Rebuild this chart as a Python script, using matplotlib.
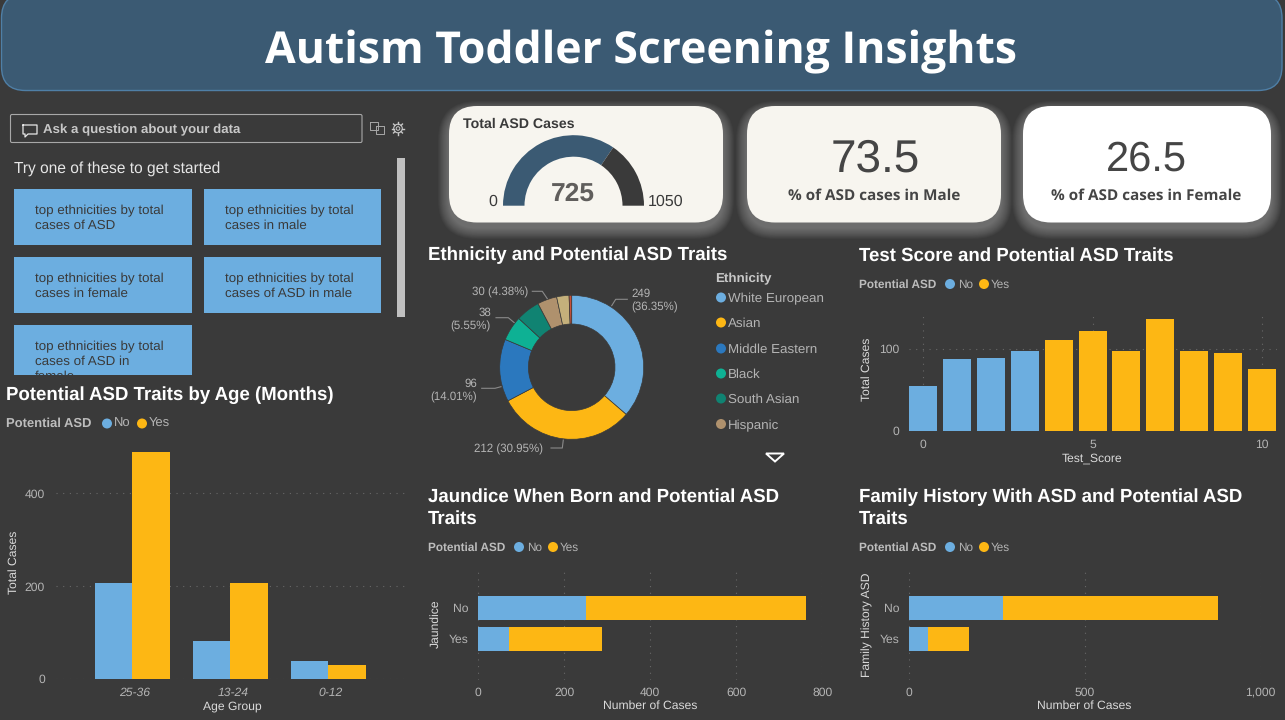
import numpy as np
import matplotlib
matplotlib.use("Agg")
import matplotlib.pyplot as plt
from matplotlib.patches import FancyBboxPatch, Circle, Rectangle, Polygon

# data
age_groups = ["25-36", "13-24", "0-12"]
age_no = [207, 82, 39]
age_yes = [489, 207, 30]

test_scores = [0, 1, 2, 3, 4, 5, 6, 7, 8, 9, 10]
test_totals = [55, 87, 89, 97, 110, 121, 97, 136, 97, 95, 75]
test_asd = ["No", "No", "No", "No", "Yes", "Yes", "Yes", "Yes", "Yes", "Yes", "Yes"]

ethnicities = ["White European", "Asian", "Middle Eastern", "Black", "South Asian",
               "Hispanic", "Others", "Latino"]
ethnicity_cases = [249, 212, 96, 38, 37, 30, 19, 4]
ethnicity_colors = ["#6CAEE0", "#FDB714", "#2B78BE", "#0EB194", "#108372",
                    "#AF916D", "#C4B07B", "#C8503A"]

answers = ["No", "Yes"]
jaundice_no = [250, 71]
jaundice_yes = [512, 217]
family_no = [267, 54]
family_yes = [612, 117]

total_cases = 725
gauge_max = 1050
pct_male = 73.5
pct_female = 26.5

prompts = ["top ethnicities by total\ncases of ASD", "top ethnicities by total\ncases in male",
           "top ethnicities by total\ncases in female", "top ethnicities by total\ncases of ASD in male",
           "top ethnicities by total\ncases of ASD in\nfemale"]

BG = "#3A3A3A"
BLUE = "#6CAEE0"
YELLOW = "#FDB714"
HEADER = "#3B5A73"
TICK = "#B4B4B4"
LABEL = "#DADADA"
GRID = "#686868"

plt.rcParams["font.family"] = ["Liberation Sans", "DejaVu Sans"]
plt.rcParams["text.hinting"] = "no_hinting"

W, H = 1285, 720
fig = plt.figure(figsize=(W / 100, H / 100), dpi=100, facecolor=BG)

# whole-figure axes in pixel coordinates for the panels and texts
px = fig.add_axes([0, 0, 1, 1], zorder=0)
px.set_xlim(0, W)
px.set_ylim(H, 0)
px.axis("off")


def axes_px(left, top, right, bottom):
    ax = fig.add_axes([left / W, 1 - bottom / H, (right - left) / W, (bottom - top) / H], zorder=2)
    ax.set_facecolor("none")
    return ax


def round_box(x0, y0, x1, y1, r, **kw):
    box = FancyBboxPatch((x0, y0), x1 - x0, y1 - y0, boxstyle=f"round,pad=0,rounding_size={r}", **kw)
    px.add_patch(box)
    return box


def style_axes(ax):
    for s in ax.spines.values():
        s.set_visible(False)
    ax.tick_params(length=0, labelsize=8.7, labelcolor=TICK)
    ax.set_axisbelow(True)


def dotted(ax, axis):
    ax.grid(True, axis=axis, color=GRID, linewidth=0.8, linestyle=(0, (1, 5)))


def asd_legend(x, y, size=8.5, c1=91, t1=99, c2=125, t2=132):
    px.text(x, y + 0.5, "Potential ASD", color="#BDBDBD", fontsize=size, fontweight="bold", va="center")
    px.add_patch(Circle((x + c1, y), 5, facecolor=BLUE, edgecolor="none"))
    px.text(x + t1, y + 0.5, "No", color=TICK, fontsize=size, va="center")
    px.add_patch(Circle((x + c2, y), 5, facecolor=YELLOW, edgecolor="none"))
    px.text(x + t2, y + 0.5, "Yes", color=TICK, fontsize=size, va="center")


def chart_title(x, y, s):
    px.text(x, y, s, color="white", fontsize=13.4, fontweight="bold", va="center", linespacing=1.32)


# header
round_box(1.5, -6, 1282, 90.5, 24, facecolor=HEADER, edgecolor="#4F7FA6", linewidth=1)
px.text(641, 52, "Autism Toddler Screening Insights", color="white", fontsize=32,
        fontweight="bold", family="Open Sans", ha="center", va="center")

# Q&A panel
round_box(10.5, 114.5, 362, 142.5, 1.5, facecolor="none", edgecolor="#A8A8A8", linewidth=0.8)
px.plot([23, 37, 37, 28, 25, 25, 23, 23], [125, 125, 134, 134, 137, 134, 134, 125], color="#E8E8E8", lw=0.9)
px.text(43, 130, "Ask a question about your data", color="#C8C8C8", fontsize=9.5, fontweight="bold", va="center")
px.plot([376, 384, 384, 376, 376], [126, 126, 134, 134, 126], color="#A8A8A8", lw=0.7)
px.plot([370, 378, 378, 370, 370], [122, 122, 130, 130, 122], color="#A8A8A8", lw=0.7)
px.add_patch(Circle((398, 128.5), 4.3, facecolor="none", edgecolor="#C8C8C8", lw=0.8))
px.add_patch(Circle((398, 128.5), 1.8, facecolor="none", edgecolor="#C8C8C8", lw=0.7))
for a in np.arange(0, 360, 45):
    px.plot([398 + 4.3 * np.cos(np.radians(a)), 398 + 6.3 * np.cos(np.radians(a))],
            [128.5 + 4.3 * np.sin(np.radians(a)), 128.5 + 6.3 * np.sin(np.radians(a))], color="#C8C8C8", lw=1)
px.text(14, 168.5, "Try one of these to get started", color="#E6E6E6", fontsize=11.2, va="center")
px.add_patch(Rectangle((397, 158), 8, 159, facecolor="#C0C0C0", edgecolor="none"))

card_x = [(14, 192), (204, 381), (14, 192), (204, 381), (14, 192)]
card_y = [(189, 245), (189, 245), (257, 313), (257, 313), (325, 375)]
for (x0, x1), (y0, y1), prompt in zip(card_x, card_y, prompts):
    px.add_patch(Rectangle((x0, y0), x1 - x0, y1 - y0, facecolor=BLUE, edgecolor="none"))
    t = px.text(x0 + 21, y0 + 15.5, prompt, color="#3A3A3A", fontsize=9.6, va="top", linespacing=1.3)
    t.set_clip_path(Rectangle((x0, y0), x1 - x0, y1 - y0, transform=px.transData))

# KPI cards with a soft glow that falls downward
kpi_boxes = [(449, 723, "#F7F5EF"), (747, 1001, "#F7F5EF"), (1023, 1271, "#FFFFFF")]
for x0, x1, col in kpi_boxes:
    for g in np.arange(11, 0, -0.75):
        round_box(x0 - g, 112 - g, x1 + g, 228 + g, 28 + g, facecolor="#B8B8B8", edgecolor="none", alpha=0.04)
    round_box(x0, 106, x1, 222.5, 28, facecolor=col, edgecolor="none")

px.text(463, 124.5, "Total ASD Cases", color="#3A3A3A", fontsize=10.2, fontweight="bold", va="center")
gauge = axes_px(503, 135.2, 644, 276.2)
gauge.pie([total_cases, gauge_max - total_cases, gauge_max], colors=[HEADER, BG, "none"], startangle=180,
          counterclock=False, radius=1, wedgeprops=dict(width=21.5 / 70.5, linewidth=0))
gauge.set_xlim(-1, 1)
gauge.set_ylim(-1, 1)
px.text(573, 194, str(total_cases), color="#605E5C", fontsize=19, fontweight="bold", ha="center", va="center")
px.text(493, 201.5, "0", color="#3A3A3A", fontsize=11.5, ha="center", va="center")
px.text(666, 201.5, str(gauge_max), color="#3A3A3A", fontsize=11.5, ha="center", va="center")
px.text(875, 160, str(pct_male), color="#454545", fontsize=33, ha="center", va="center")
px.text(874, 195.5, "% of ASD cases in Male", color="#454545", fontsize=11, fontweight="bold",
        family="Open Sans", ha="center", va="center")
px.text(1146, 160, str(pct_female), color="#454545", fontsize=30, ha="center", va="center")
px.text(1146.5, 195.5, "% of ASD cases in Female", color="#454545", fontsize=11, fontweight="bold",
        family="Open Sans", ha="center", va="center")

# donut
chart_title(428, 255.5, "Ethnicity and Potential ASD Traits")
donut = axes_px(497.7, 293.3, 645.7, 441.3)
donut.pie(ethnicity_cases, colors=ethnicity_colors, startangle=90, counterclock=False, radius=1,
          wedgeprops=dict(width=28.7 / 72, edgecolor=BG, linewidth=0.5))
donut.set_xlim(-74 / 72, 74 / 72)
donut.set_ylim(-74 / 72, 74 / 72)

total_eth = sum(ethnicity_cases)


def pct(i):
    return f"({ethnicity_cases[i] / total_eth * 100:.2f}%)"


px.text(631, 293.5, str(ethnicity_cases[0]), color=TICK, fontsize=8.3, va="center")
px.text(631, 307.5, pct(0), color=TICK, fontsize=8.3, va="center")
px.text(474, 449.5, f"{ethnicity_cases[1]} {pct(1)}", color=TICK, fontsize=8.3, va="center")
px.text(477, 383.5, str(ethnicity_cases[2]), color=TICK, fontsize=8.3, va="center", ha="right")
px.text(477, 397.5, pct(2), color=TICK, fontsize=8.3, va="center", ha="right")
px.text(491, 312.5, str(ethnicity_cases[3]), color=TICK, fontsize=8.3, va="center", ha="right")
px.text(491, 326.5, pct(3), color=TICK, fontsize=8.3, va="center", ha="right")
px.text(528, 292.5, f"{ethnicity_cases[5]} {pct(5)}", color=TICK, fontsize=8.3, va="center", ha="right")
leaders = [([611.7, 615.7, 627.3], [305.7, 299.3, 299.3]),
           ([551, 562.3, 563.3], [448, 448, 440]),
           ([481.7, 495, 501], [388.3, 388.3, 386.7]),
           ([496, 508.3, 514.3], [317.7, 317.7, 322.7]),
           ([532.3, 542.3, 547.7], [291.3, 291.3, 299.3])]
for lx, ly in leaders:
    px.plot(lx, ly, color="#8A8A8A", lw=0.8)

px.text(715, 279, "Ethnicity", color="#C8C8C8", fontsize=9.6, fontweight="bold", va="center")
legend_y = [297.5, 322.5, 348.5, 373.5, 398.5, 424]
for name, col, y in zip(ethnicities, ethnicity_colors, legend_y):
    px.add_patch(Circle((721, y), 5, facecolor=col, edgecolor="none"))
    px.text(728, y + 1.5, name, color=TICK, fontsize=9.6, va="center")
px.add_patch(Polygon([(766, 453.5), (784, 453.5), (775, 461.5)], closed=True, facecolor="none",
                     edgecolor="white", linewidth=1.4))

# age chart
chart_title(6, 395, "Potential ASD Traits by Age (Months)")
asd_legend(6, 423.5, size=9.4, c1=101, t1=108, c2=136, t2=143)
ax = axes_px(56, 440, 405, 679)
style_axes(ax)
xpos = np.arange(len(age_groups))
bw = 37.5 / 98
ax.bar(xpos - bw / 2, age_no, bw, color=BLUE)
ax.bar(xpos + bw / 2, age_yes, bw, color=YELLOW)
ax.set_xlim(-76 / 98, 273 / 98)
ax.set_ylim(0, 239 / 0.4645)
ax.set_yticks([0, 200, 400])
ax.set_xticks(xpos + 3 / 98, age_groups, fontstyle="italic")
ax.tick_params(axis="y", pad=8)
ax.tick_params(axis="x", pad=6)
dotted(ax, "y")
ax.set_xlabel("Age Group", color=LABEL, fontsize=8.7, va="center")
ax.xaxis.set_label_coords(232, 706, transform=px.transData)
ax.set_ylabel("Total Cases", color=LABEL, fontsize=8.7, va="center")
ax.yaxis.set_label_coords(14, 562, transform=px.transData)

# test score chart
chart_title(859, 255.5, "Test Score and Potential ASD Traits")
asd_legend(859, 284)
ax = axes_px(909, 311, 1277, 431)
style_axes(ax)
ax.bar(test_scores, test_totals, 28 / 33.9, color=[BLUE if a == "No" else YELLOW for a in test_asd])
ax.set_xlim(-14 / 33.9, 354 / 33.9)
ax.set_ylim(0, 120 / 0.823)
ax.set_xticks([0, 5, 10])
ax.set_yticks([0, 100])
ax.tick_params(axis="y", pad=7)
ax.tick_params(axis="x", pad=6)
dotted(ax, "both")
ax.set_xlabel("Test_Score", color=LABEL, fontsize=8.7, va="center")
ax.xaxis.set_label_coords(1092, 458.5, transform=px.transData)
ax.set_ylabel("Total Cases", color=LABEL, fontsize=8.7, va="center")
ax.yaxis.set_label_coords(867, 369, transform=px.transData)


def stacked_panel(left, right, xmax, xticks, ylab, ylab_x, ylab_y, no, yes, fmt=None):
    ax = axes_px(left, 571, right, 680)
    style_axes(ax)
    ypos = np.arange(len(answers))
    ax.barh(ypos, no, 24 / 31, color=BLUE)
    ax.barh(ypos, yes, 24 / 31, left=no, color=YELLOW)
    ax.set_xlim(0, xmax)
    ax.set_ylim(72 / 31, -37 / 31)
    ax.set_yticks(ypos, answers)
    ax.set_xticks(xticks, fmt or [str(v) for v in xticks])
    ax.tick_params(axis="y", pad=7)
    ax.tick_params(axis="x", pad=5)
    dotted(ax, "x")
    ax.set_xlabel("Number of Cases", color=LABEL, fontsize=8.7, va="center")
    ax.xaxis.set_label_coords((left + right) / 2 - (0 if xmax == 800 else 1), 706, transform=px.transData)
    ax.set_ylabel(ylab, color=LABEL, fontsize=8.7, va="center")
    ax.yaxis.set_label_coords(ylab_x, ylab_y, transform=px.transData)
    return ax


chart_title(428, 508, "Jaundice When Born and Potential ASD\nTraits")
asd_legend(428, 547)
stacked_panel(478.3, 822.3, 800, [0, 200, 400, 600, 800], "Jaundice", 436, 624, jaundice_no, jaundice_yes)

chart_title(859, 508, "Family History With ASD and Potential ASD\nTraits")
asd_legend(859, 547)
stacked_panel(909, 1260.7, 1000, [0, 500, 1000], "Family History ASD", 867, 625, family_no, family_yes,
              fmt=["0", "500", "1,000"])

fig.savefig("out.png", dpi=100, facecolor=BG)
